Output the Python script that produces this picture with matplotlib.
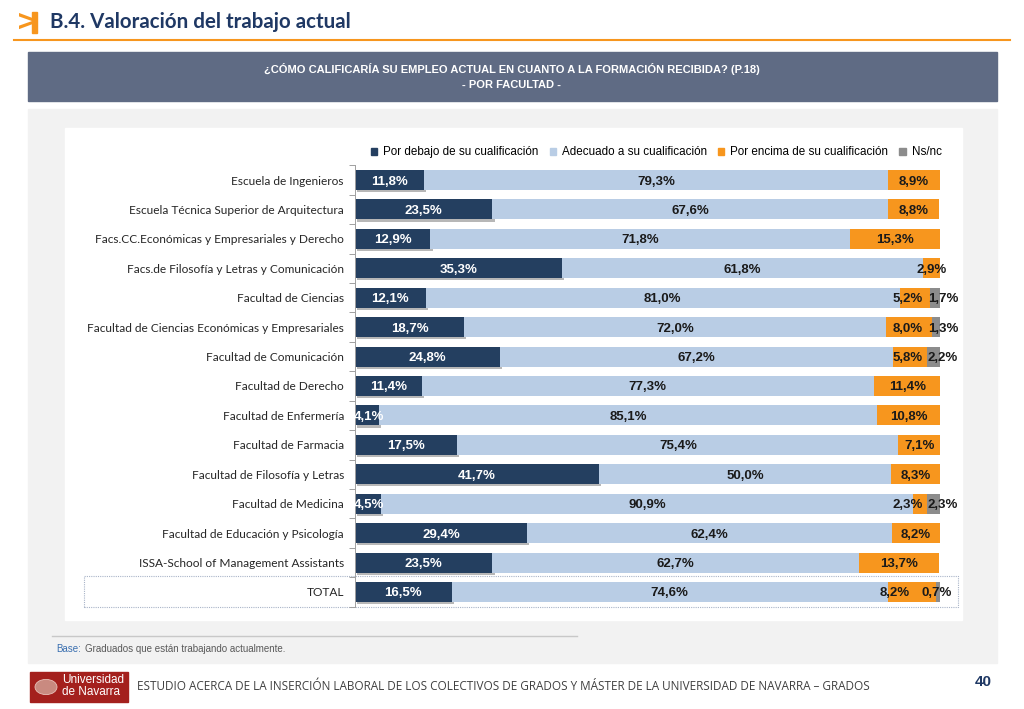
import matplotlib
matplotlib.use("Agg")
import matplotlib.pyplot as plt
import matplotlib.patches as mpatches
import matplotlib.patheffects as pe
import numpy as np

categories = [
    "Escuela de Ingenieros",
    "Escuela Técnica Superior de Arquitectura",
    "Facs.CC.Económicas y Empresariales y Derecho",
    "Facs.de Filosofía y Letras y Comunicación",
    "Facultad de Ciencias",
    "Facultad de Ciencias Económicas y Empresariales",
    "Facultad de Comunicación",
    "Facultad de Derecho",
    "Facultad de Enfermería",
    "Facultad de Farmacia",
    "Facultad de Filosofía y Letras",
    "Facultad de Medicina",
    "Facultad de Educación y Psicología",
    "ISSA-School of Management Assistants",
    "TOTAL",
]
debajo = [11.8, 23.5, 12.9, 35.3, 12.1, 18.7, 24.8, 11.4, 4.1, 17.5, 41.7, 4.5, 29.4, 23.5, 16.5]
adecuado = [79.3, 67.6, 71.8, 61.8, 81.0, 72.0, 67.2, 77.3, 85.1, 75.4, 50.0, 90.9, 62.4, 62.7, 74.6]
encima = [8.9, 8.8, 15.3, 2.9, 5.2, 8.0, 5.8, 11.4, 10.8, 7.1, 8.3, 2.3, 8.2, 13.7, 8.2]
nsnc = [0, 0, 0, 0, 1.7, 1.3, 2.2, 0, 0, 0, 0, 2.3, 0, 0, 0.7]
series_names = ["Por debajo de su cualificación", "Adecuado a su cualificación",
                "Por encima de su cualificación", "Ns/nc"]
colors = ["#243f60", "#b9cde5", "#f7961e", "#8c8c8c"]
label_colors = ["white", "#1a1a1a", "#1a1a1a", "#1a1a1a"]

W, H = 1024, 709
fig = plt.figure(figsize=(W / 100, H / 100), dpi=100)
fig.patch.set_facecolor("white")


def px_rect(x0, y0, x1, y1, **kw):
    r = mpatches.Rectangle((x0 / W, 1 - y1 / H), (x1 - x0) / W, (y1 - y0) / H,
                           transform=fig.transFigure, zorder=-5, **kw)
    fig.patches.append(r)
    return r


def px_text(x, y, s, **kw):
    return fig.text(x / W, 1 - y / H, s, **kw)


# Title
px_text(16, 22, ">", color="#f7961e", fontsize=20, fontweight="bold", family="DejaVu Sans", va="center")
px_rect(32, 12, 37, 33, color="#f7961e")
px_text(50, 22, "B.4. Valoración del trabajo actual", color="#1f3864", fontsize=14.8,
        fontweight="bold", family="Lato", va="center")
fig.add_artist(plt.Line2D([14 / W, 1010 / W], [1 - 40 / H, 1 - 40 / H], color="#f7961e", lw=1.5,
                          transform=fig.transFigure))

# Header band
px_rect(28, 52, 997, 101, color="#5f6b84")
px_text(512, 69, "¿CÓMO CALIFICARÍA SU EMPLEO ACTUAL EN CUANTO A LA FORMACIÓN RECIBIDA? (P.18)",
        color="white", fontsize=8, fontweight="bold", family="Liberation Sans", ha="center", va="center")
px_text(512, 85, "- POR FACULTAD -", color="white", fontsize=8, fontweight="bold",
        family="Liberation Sans", ha="center", va="center")

# Panels
px_rect(28, 109, 997, 663, color="#f2f2f2")
px_rect(65, 128, 962, 620, color="white")

# TOTAL dotted box
px_rect(84, 576, 958, 607, fill=False, edgecolor="#a9b4c8", lw=0.8, linestyle=(0, (1, 1)))

# Axes
ax = fig.add_axes([355 / W, 1 - 606.7 / H, (940 - 355) / W, (606.7 - 165.3) / H])
ax.set_zorder(5)
ax.set_facecolor("none")
n = len(categories)
y = np.arange(n)
left = np.zeros(n)
data = [debajo, adecuado, encima, nsnc]
lab_kw = dict(va="center_baseline", fontsize=9.5, fontweight="bold", family="Liberation Sans", zorder=3)
for k, (vals, c) in enumerate(zip(data, colors)):
    vals = np.array(vals)
    bars = ax.barh(y, vals, left=left, height=0.68, color=c, zorder=2)
    if k == 0:
        for b in bars:
            b.set_path_effects([pe.SimplePatchShadow(offset=(1.5, -1.5), shadow_rgbFace="#888888", alpha=0.6),
                                pe.Normal()])
    for i, v in enumerate(vals):
        if v <= 0:
            continue
        s = f"{v:.1f}%".replace(".", ",")
        total_row = (i == n - 1)
        if k == 3:
            ax.text(96.8 if total_row else 97.9, i, s, ha="left", color=label_colors[k], **lab_kw)
        elif k == 2 and nsnc[i] > 0:
            ax.text(94.9 if total_row else 97.1, i, s, ha="right", color=label_colors[k], **lab_kw)
        elif k == 0 and v < 6:
            ax.text(-0.2, i, s, ha="left", color=label_colors[k], **lab_kw)
        else:
            ax.text(left[i] + v / 2, i, s, ha="center", color=label_colors[k], **lab_kw)
    left = left + vals

ax.set_xlim(0, 100)
ax.set_ylim(n - 0.5, -0.5)
ax.set_yticks(y)
ax.set_yticklabels(categories, family="Lato", fontsize=8.6, color="#262626")
ax.set_yticks(np.arange(n + 1) - 0.5, minor=True)
ax.tick_params(axis="y", which="major", length=0, pad=8)
ax.tick_params(axis="y", which="minor", length=4, color="#a0a0a0", width=0.7)
ax.set_xticks([])
for s in ["top", "right", "bottom"]:
    ax.spines[s].set_visible(False)
ax.spines["left"].set_color("#a0a0a0")
ax.spines["left"].set_linewidth(0.7)

handles = [mpatches.Patch(color=c) for c in colors]
leg = ax.legend(handles, series_names, loc="lower center", bbox_to_anchor=(0.515, 1.005), ncol=4,
                frameon=False, prop={"family": "Liberation Sans", "size": 8.4}, handlelength=0.55,
                handleheight=0.55, handletextpad=0.5, columnspacing=0.95, borderaxespad=0)

# Base note
fig.add_artist(plt.Line2D([52 / W, 577 / W], [1 - 636 / H, 1 - 636 / H], color="#c8c8c8", lw=1,
                          transform=fig.transFigure))
px_text(56, 649, "Base:", color="#3a6fb0", fontsize=7, family="Liberation Sans", va="center")
px_text(85, 649, "Graduados que están trabajando actualmente.", color="#595959", fontsize=7,
        family="Liberation Sans", va="center")

# Footer
px_rect(30, 672, 128, 702, color="#a4201d")
fig.patches.append(mpatches.Circle((46 / W, 1 - 687 / H), 11 / W, transform=fig.transFigure,
                                   facecolor="#c98a80", edgecolor="#e8c0b8", lw=0.6, zorder=-4))
px_text(62, 680, "Universidad", color="white", fontsize=8.5, family="Liberation Sans", va="center")
px_text(62, 692, "de Navarra", color="white", fontsize=8.5, family="Liberation Sans", va="center")
ft = px_text(137, 687, "ESTUDIO ACERCA DE LA INSERCIÓN LABORAL DE LOS COLECTIVOS DE GRADOS Y MÁSTER DE LA UNIVERSIDAD DE NAVARRA – GRADOS",
             color="#404040", fontsize=7.5, family="Open Sans", va="center")
fig.canvas.draw()
bb = ft.get_window_extent()
ft.set_fontsize(7.5 * 730 / bb.width)
px_text(983, 682, "40", color="#1f3864", fontsize=11, fontweight="bold", family="Liberation Sans",
        ha="center", va="center")

fig.savefig("out.png", dpi=100)
